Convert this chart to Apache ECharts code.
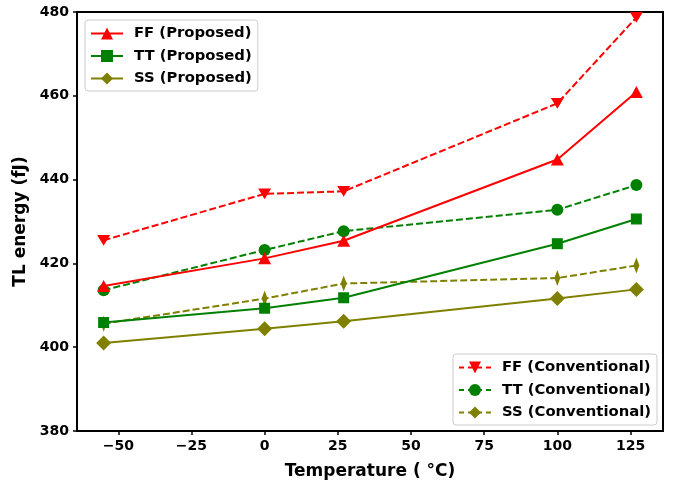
<!DOCTYPE html>
<html>
<head>
<meta charset="utf-8">
<script src="https://cdn.jsdelivr.net/npm/echarts@6/dist/echarts.min.js"></script>
<style>
  html, body { margin: 0; padding: 0; background: #fff; }
  #chart { width: 683px; height: 485px; }
</style>
</head>
<body>
<div id="chart"></div>
<script>
// Temperatures (°C) at which the TL energy was evaluated
const temperatures = [-55, 0, 27, 100, 127];

// TL energy (fJ) per corner, proposed design
const ffProposed = [414.6, 421.2, 425.4, 444.8, 460.9];
const ttProposed = [405.9, 409.3, 411.8, 424.7, 430.6];
const ssProposed = [401.0, 404.4, 406.2, 411.6, 413.8];

// TL energy (fJ) per corner, conventional design
const ffConventional = [425.5, 436.6, 437.2, 458.2, 478.7];
const ttConventional = [413.6, 423.2, 427.7, 432.8, 438.7];
const ssConventional = [405.6, 411.6, 415.2, 416.5, 419.5];

// Axis ticks
const xTicks = [-50, -25, 0, 25, 50, 75, 100, 125];
const yTicks = [380, 400, 420, 440, 460, 480];

const RED = '#ff0000', GREEN = '#008000', OLIVE = '#808000';
const FONT = 'DejaVu Sans';
const downTriangle = 'path://M0,0 L10,0 L5,9 Z';
const thinDiamond = 'path://M3,0 L6,5 L3,10 L0,5 Z';
const DASH = [7, 3];

function pairs(values) {
  return temperatures.map((t, i) => [t, values[i]]);
}

function lineSeries(name, values, color, dashed, symbol, size) {
  return {
    name: name,
    type: 'line',
    data: pairs(values),
    symbol: symbol,
    symbolSize: size,
    symbolKeepAspect: true,
    showAllSymbol: true,
    itemStyle: { color: color },
    lineStyle: { color: color, width: 2, type: dashed ? DASH : 'solid' },
    emphasis: { disabled: true },
    animation: false,
    z: dashed ? 2 : 3
  };
}

const series = [
  lineSeries('FF (Proposed)', ffProposed, RED, false, 'triangle', [13, 12]),
  lineSeries('TT (Proposed)', ttProposed, GREEN, false, 'rect', 11),
  lineSeries('SS (Proposed)', ssProposed, OLIVE, false, 'diamond', 15),
  lineSeries('FF (Conventional)', ffConventional, RED, true, downTriangle, [13, 12]),
  lineSeries('TT (Conventional)', ttConventional, GREEN, true, 'circle', 12),
  lineSeries('SS (Conventional)', ssConventional, OLIVE, true, thinDiamond, [10, 16])
];

const legendBase = {
  orient: 'vertical',
  backgroundColor: 'rgba(255,255,255,0.85)',
  borderColor: '#cccccc',
  borderWidth: 1,
  borderRadius: 3,
  itemWidth: 32,
  itemHeight: 15,
  itemGap: 7.5,
  padding: [6, 6, 5, 5],
  textStyle: { fontFamily: FONT, fontWeight: 'bold', fontSize: 14.8, color: '#000', padding: [0, 0, 0, 6] },
  selectedMode: false
};

function legendItems(names, dashed) {
  return names.map(n => dashed ? { name: n, lineStyle: { type: [5, 4], width: 2 } } : { name: n });
}

const chart = echarts.init(document.getElementById('chart'), null, { renderer: 'canvas' });
chart.setOption({
  animation: false,
  backgroundColor: '#fff',
  grid: {
    left: 77, right: 20, top: 12, bottom: 52,
    show: true, borderColor: '#000', borderWidth: 2, backgroundColor: 'transparent'
  },
  legend: [
    Object.assign({}, legendBase, {
      data: legendItems(['FF (Proposed)', 'TT (Proposed)', 'SS (Proposed)'], false),
      left: 85, top: 20
    }),
    Object.assign({}, legendBase, {
      data: legendItems(['FF (Conventional)', 'TT (Conventional)', 'SS (Conventional)'], true),
      right: 26, top: 354
    })
  ],
  xAxis: {
    type: 'value',
    min: -64.1, max: 136.1,
    name: 'Temperature ( °C)',
    nameLocation: 'middle',
    nameGap: 32,
    nameTextStyle: { fontFamily: FONT, fontWeight: 'bold', fontSize: 17, color: '#000' },
    splitLine: { show: false },
    axisLine: { show: true, onZero: false, lineStyle: { color: '#000', width: 2 } },
    axisTick: { show: true, length: 4, lineStyle: { color: '#000', width: 1.5 }, customValues: xTicks },
    axisLabel: {
      customValues: xTicks,
      margin: 8,
      fontFamily: FONT, fontWeight: 'bold', fontSize: 14, color: '#000',
      formatter: v => String(v).replace('-', '\u2212')
    }
  },
  yAxis: {
    type: 'value',
    min: 380, max: 480,
    name: 'TL energy (fJ)',
    nameLocation: 'middle',
    nameGap: 48,
    nameTextStyle: { fontFamily: FONT, fontWeight: 'bold', fontSize: 17, color: '#000' },
    splitLine: { show: false },
    axisLine: { show: true, onZero: false, lineStyle: { color: '#000', width: 2 } },
    axisTick: { show: true, length: 4, lineStyle: { color: '#000', width: 1.5 }, customValues: yTicks },
    axisLabel: {
      customValues: yTicks,
      margin: 8,
      fontFamily: FONT, fontWeight: 'bold', fontSize: 14, color: '#000'
    }
  },
  series: series
});
</script>
</body>
</html>
